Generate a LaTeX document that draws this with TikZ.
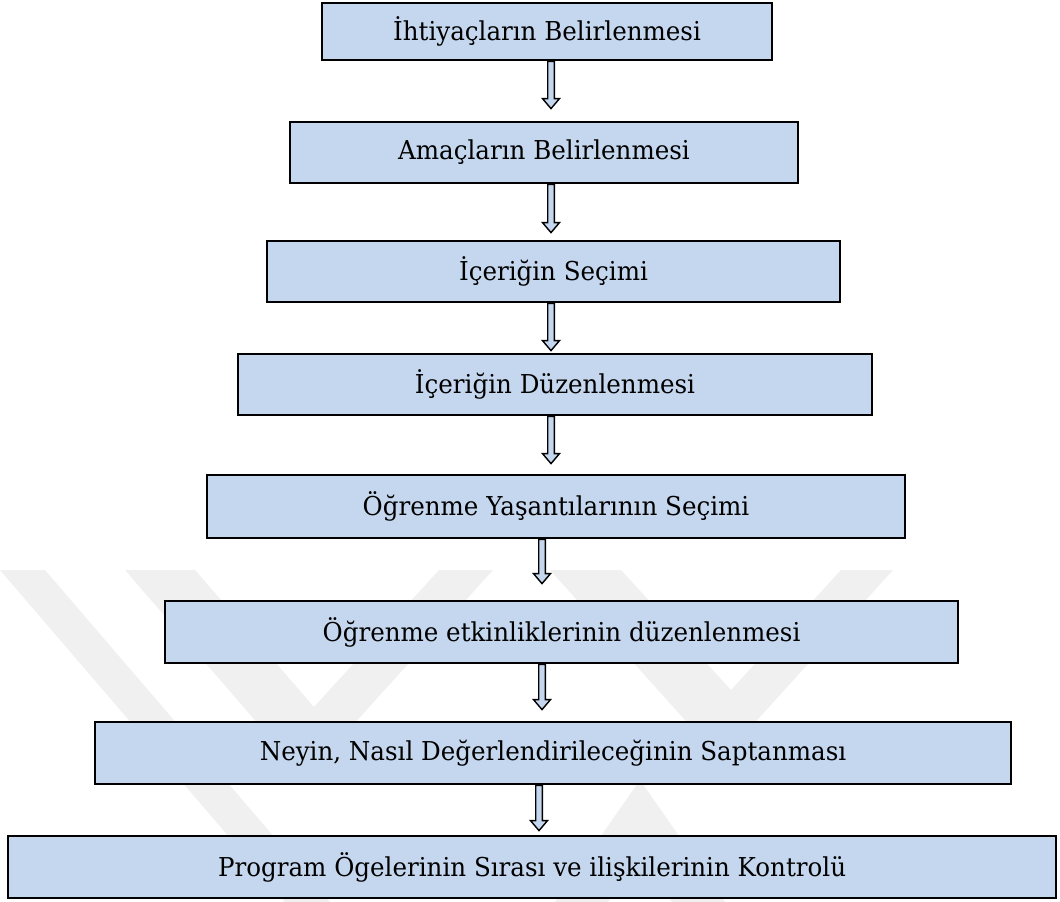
\documentclass[tikz,border=0pt]{standalone}
\usepackage{fontspec}
\setmainfont{DejaVu Serif Condensed}[FakeStretch=1.05]
\usetikzlibrary{calc,backgrounds}
\definecolor{boxfill}{RGB}{197,215,238}
\definecolor{emblemgray}{RGB}{240,240,240}

% block arrow from the bottom of one stage to the top of the next
% #1 upper node, #2 lower node, #3 x position, #4 gap left above the lower node
\newcommand\stagearrow[4]{%
  \draw[flowarrow] let \p1=(#1.south), \p2=(#2.north) in
    ({#3pt-3.3pt},{\y1}) -- ({#3pt-3.3pt},{\y2+#4pt+10pt})
    -- ({#3pt-8.5pt},{\y2+#4pt+10pt}) -- ({#3pt},{\y2+#4pt})
    -- ({#3pt+8.5pt},{\y2+#4pt+10pt}) -- ({#3pt+3.3pt},{\y2+#4pt+10pt})
    -- ({#3pt+3.3pt},{\y1}) -- cycle;}

\begin{document}
\begin{tikzpicture}[x=1pt,y=-1pt,
  stage/.style={draw=black, line width=2.8pt, fill=boxfill, inner sep=0pt,
    font=\fontsize{26}{30}\selectfont, text=black},
  flowarrow/.style={draw=black, line width=1.4pt, fill=boxfill, line join=miter},
  emblem/.style={fill=emblemgray}]
\useasboundingbox (0,0) rectangle (1060,902);

\node[stage, minimum width=450pt,  minimum height=57pt] (s1) at (547,31.5)  {İhtiyaçların Belirlenmesi};
\node[stage, minimum width=508pt,  minimum height=61pt] (s2) at (544,152.5) {Amaçların Belirlenmesi};
\node[stage, minimum width=573pt,  minimum height=61pt] (s3) at (553.5,271.5) {İçeriğin Seçimi};
\node[stage, minimum width=634pt,  minimum height=61pt] (s4) at (555,384.5) {İçeriğin Düzenlenmesi};
\node[stage, minimum width=698pt,  minimum height=63pt] (s5) at (556,506.5) {Öğrenme Yaşantılarının Seçimi};
\node[stage, minimum width=793pt,  minimum height=62pt] (s6) at (561.5,632) {Öğrenme etkinliklerinin düzenlenmesi};
\node[stage, minimum width=916pt,  minimum height=62pt] (s7) at (553,753)   {Neyin, Nasıl Değerlendirileceğinin Saptanması};
\node[stage, minimum width=1048pt, minimum height=62pt] (s8) at (532,867)   {Program Ögelerinin Sırası ve ilişkilerinin Kontrolü};

\begin{scope}[on background layer]
  \fill[white] (0,0) rectangle (1060,902);
  % faint emblem behind the lower stages
  \fill[emblem] (0,570) -- (45,570) -- (330,902) -- (285,902) -- cycle;
  \fill[emblem] (125,570) -- (195,570) -- (314,707) -- (439,570) -- (493,570)
                -- (305,778) -- cycle;
  \fill[emblem] (550,570) -- (621,570) -- (731,690) -- (841,570) -- (893,570)
                -- (721,760) -- cycle;
  \fill[emblem] (640,780) -- (725,902) -- (672,902) -- (640,856) -- (608,902)
                -- (555,902) -- cycle;
  \stagearrow{s1}{s2}{551}{12}
  \stagearrow{s2}{s3}{551}{7}
  \stagearrow{s3}{s4}{551}{2}
  \stagearrow{s4}{s5}{551}{10}
  \stagearrow{s5}{s6}{542}{16}
  \stagearrow{s6}{s7}{542}{11}
  \stagearrow{s7}{s8}{539}{4}
\end{scope}
\end{tikzpicture}
\end{document}
